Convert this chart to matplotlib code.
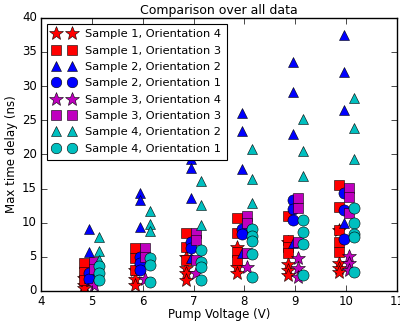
import matplotlib
matplotlib.use("Agg")
import matplotlib.pyplot as plt

voltages = [5, 6, 7, 8, 9, 10]

s1_o4 = [[1.9, 0.9, 0.4], [3.0, 1.7, 0.9], [5.0, 3.4, 2.6, 1.6], [6.4, 3.5, 2.6],
         [7.2, 4.0, 3.1, 2.3], [9.0, 4.1, 3.4, 2.8]]
s1_o3 = [[4.1, 2.8, 1.6], [6.3, 4.8, 3.1], [8.5, 6.5, 4.5], [10.7, 8.5, 5.7, 4.5],
         [11.0, 7.5, 6.4, 5.6], [15.5, 12.3, 8.9, 7.2, 5.7]]
s2_o2 = [[9.1, 5.7, 1.9], [14.3, 13.3, 9.4, 3.4], [19.3, 18.0, 13.6, 4.8],
         [26.1, 23.4, 17.9, 5.6], [33.6, 29.2, 23.0, 7.0], [37.5, 32.0, 26.5, 10.0]]
s2_o1 = [[2.6, 1.8], [5.0, 4.1, 3.1], [7.2, 6.3], [9.1, 8.3], [13.3, 12.0, 10.4],
         [14.3, 11.9, 7.6]]
s3_o4 = [[0.9], [1.8], [2.6], [3.5], [4.8, 3.4, 2.0], [5.1, 4.1, 3.1]]
s3_o3 = [[4.3, 3.2], [6.3, 5.0], [8.5, 7.5, 4.5], [11.0, 9.9, 5.6], [13.6, 12.2, 7.2],
         [15.1, 13.8, 11.4]]
s4_o2 = [[7.9, 5.9, 4.5], [11.7, 9.8, 8.8], [16.1, 12.6, 9.7], [20.8, 16.4, 12.9],
         [25.2, 20.5, 16.8], [28.3, 23.9, 19.3]]
s4_o1 = [[3.6, 2.6, 1.6], [4.8, 3.8, 1.3], [6.0, 4.3, 3.5, 1.6], [9.1, 8.1, 7.3, 5.4, 2.0],
         [10.4, 8.6, 6.9, 2.3], [12.2, 10.0, 8.3, 7.9, 2.8]]

labels = ["Sample 1, Orientation 4", "Sample 1, Orientation 3",
          "Sample 2, Orientation 2", "Sample 2, Orientation 1",
          "Sample 3, Orientation 4", "Sample 3, Orientation 3",
          "Sample 4, Orientation 2", "Sample 4, Orientation 1"]
series = [s1_o4, s1_o3, s2_o2, s2_o1, s3_o4, s3_o3, s4_o2, s4_o1]
offsets = [-0.15, -0.15, -0.05, -0.05, 0.05, 0.05, 0.15, 0.15]
markers = ["*", "s", "^", "o", "*", "s", "^", "o"]
colors = ["#ff0000", "#ff0000", "#0000ff", "#0000ff", "#bf00bf", "#bf00bf", "#00bfbf", "#00bfbf"]
sizes = [10.5, 7.5, 7.5, 8, 10.5, 7.5, 7.5, 8]

plt.style.use("classic")
plt.rcParams["font.family"] = ["DejaVu Sans"]
fig = plt.figure(figsize=(4.0, 3.21), dpi=100)
ax = fig.add_axes([0.1025, 0.0935, 0.89, 0.851])

for data, off, mk, col, ms, lab in zip(series, offsets, markers, colors, sizes, labels):
    xs, ys = [], []
    for v, vals in zip(voltages, data):
        for y in vals:
            xs.append(v + off)
            ys.append(y)
    ax.plot(xs, ys, linestyle="none", marker=mk, color=col, markersize=ms,
            markeredgecolor="black", markeredgewidth=0.4, label=lab)

ax.set_xlim(4, 11)
ax.set_ylim(0, 40)
ax.set_xticks(range(4, 12))
ax.set_yticks(range(0, 41, 5))
ax.tick_params(labelsize=8.5, direction="in", length=4, top=True, right=True, pad=3)
ax.set_xlabel("Pump Voltage (V)", fontsize=8.5, labelpad=0)
ax.set_ylabel("Max time delay (ns)", fontsize=8.5, labelpad=3)
ax.set_title("Comparison over all data", fontsize=9, pad=3)
leg = ax.legend(loc="upper left", numpoints=2, fontsize=8.2, frameon=True, fancybox=False,
                borderpad=0.5, labelspacing=0.56, handlelength=2.0, handletextpad=0.9,
                borderaxespad=0.5, markerscale=0.95)
leg.get_frame().set_edgecolor("black")
leg.get_frame().set_linewidth(0.8)

fig.savefig("out.png", dpi=100)
